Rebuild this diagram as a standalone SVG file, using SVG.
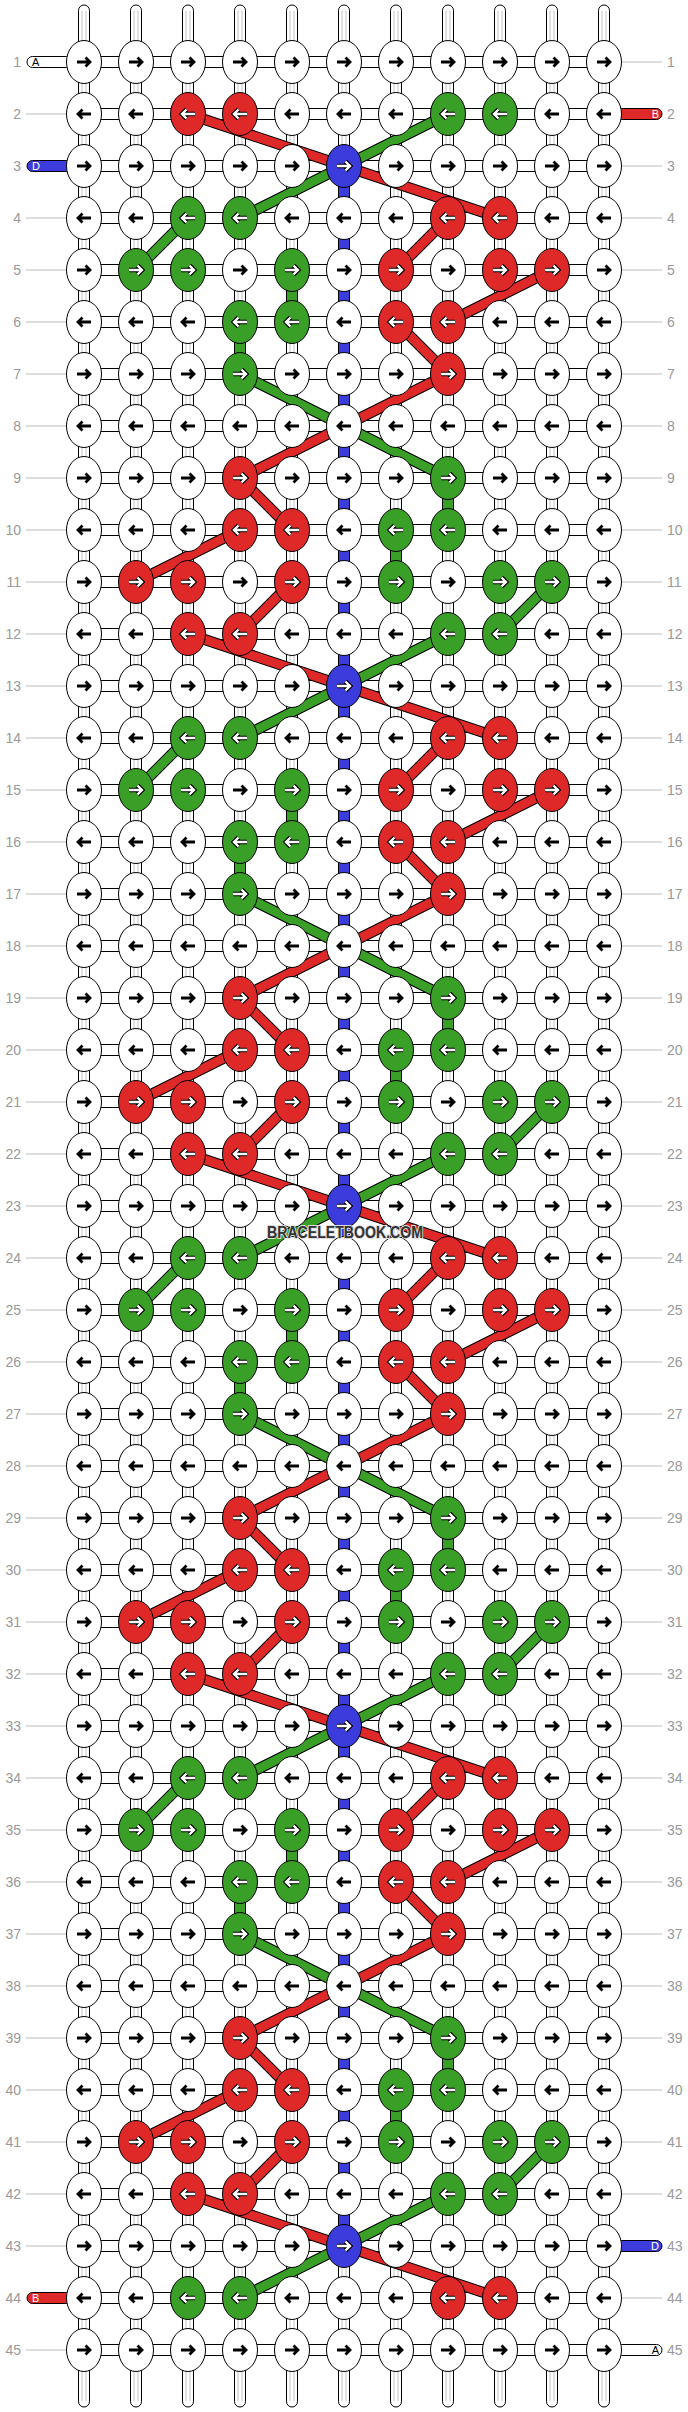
<svg xmlns="http://www.w3.org/2000/svg" xmlns:xlink="http://www.w3.org/1999/xlink" width="688" height="2412" viewBox="0 0 688 2412">
<style>
.w{fill:#fff;stroke:#000;stroke-width:1}
.r{fill:#df2828;stroke:#000;stroke-width:1}
.g{fill:#3a9f27;stroke:#000;stroke-width:1}
.b{fill:#3c3cdc;stroke:#000;stroke-width:1}
.ab{fill:none;stroke:#000;stroke-width:2.8}
.ao{fill:none;stroke:#000;stroke-width:4.6}
.aw{fill:none;stroke:#fff;stroke-width:2.4}
.o{fill:none;stroke:#000;stroke-width:11}
.rl{fill:none;stroke:#df2828;stroke-width:9}
.gn{fill:none;stroke:#3a9f27;stroke-width:9}
.gy{fill:none;stroke:#c4c4c4;stroke-width:1}
.ll{fill:none;stroke:#bbb;stroke-width:1}
.num{font-family:"Liberation Sans",Arial,sans-serif;font-size:14px;fill:#999}
.nl{text-anchor:end}
.lt{font-family:"Liberation Sans",Arial,sans-serif;font-size:11px}
</style>
<defs>
<path id="pR" d="M-7 0H6M1.5-4.5L6 0L1.5 4.5"/>
<path id="pL" d="M7 0H-6M-1.5-4.5L-6 0L-1.5 4.5"/>
<g id="wR"><ellipse rx="17.5" ry="21.5" class="w"/><use href="#pR" class="ab"/></g>
<g id="wL"><ellipse rx="17.5" ry="21.5" class="w"/><use href="#pL" class="ab"/></g>
<g id="rR"><ellipse rx="17.5" ry="21.5" class="r"/><use href="#pR" class="ao"/><use href="#pR" class="aw"/></g>
<g id="rL"><ellipse rx="17.5" ry="21.5" class="r"/><use href="#pL" class="ao"/><use href="#pL" class="aw"/></g>
<g id="gR"><ellipse rx="17.5" ry="21.5" class="g"/><use href="#pR" class="ao"/><use href="#pR" class="aw"/></g>
<g id="gL"><ellipse rx="17.5" ry="21.5" class="g"/><use href="#pL" class="ao"/><use href="#pL" class="aw"/></g>
<g id="bR"><ellipse rx="17.5" ry="21.5" class="b"/><use href="#pR" class="ao"/><use href="#pR" class="aw"/></g>
<rect id="rb" x="84" y="-5.5" width="520" height="11" class="w"/>
<path id="gp" d="M344 0L240 52M188 52L136 104M240 208L344 260M344 260L448 312M552 416L500 468M448 468L344 520"/>
<path id="rp" d="M344 0L500 52M448 52L396 104M552 104L448 156M396 156L448 208M448 208L344 260M344 260L240 312M240 312L292 364M240 364L136 416M292 416L240 468M188 468L344 520"/>
<g id="per">
<rect x="286.5" y="104" width="11" height="52" class="g"/>
<rect x="234.5" y="156" width="11" height="52" class="g"/>
<rect x="442.5" y="312" width="11" height="52" class="g"/>
<rect x="390.5" y="364" width="11" height="52" class="g"/>
<use href="#gp" class="o"/><use href="#gp" class="gn"/>
<use href="#rp" class="o"/><use href="#rp" class="rl"/>
</g>
</defs>
<rect width="688" height="2412" fill="#fff"/>
<g id="connectors">
<g id="strands">
<rect x="78.5" y="5" width="11" height="2402" rx="5.5" class="w"/>
<rect x="130.5" y="5" width="11" height="2402" rx="5.5" class="w"/>
<rect x="182.5" y="5" width="11" height="2402" rx="5.5" class="w"/>
<rect x="234.5" y="5" width="11" height="2402" rx="5.5" class="w"/>
<rect x="286.5" y="5" width="11" height="2402" rx="5.5" class="w"/>
<rect x="338.5" y="5" width="11" height="2402" rx="5.5" class="w"/>
<rect x="390.5" y="5" width="11" height="2402" rx="5.5" class="w"/>
<rect x="442.5" y="5" width="11" height="2402" rx="5.5" class="w"/>
<rect x="494.5" y="5" width="11" height="2402" rx="5.5" class="w"/>
<rect x="546.5" y="5" width="11" height="2402" rx="5.5" class="w"/>
<rect x="598.5" y="5" width="11" height="2402" rx="5.5" class="w"/>
<path class="gy" d="M82 11V2401M86 11V2401M134 11V2401M138 11V2401M186 11V2401M190 11V2401M238 11V2401M242 11V2401M290 11V2401M294 11V2401M342 11V2401M346 11V2401M394 11V2401M398 11V2401M446 11V2401M450 11V2401M498 11V2401M502 11V2401M550 11V2401M554 11V2401M602 11V2401M606 11V2401"/>
</g>
<g id="stubs">
<rect x="27" y="56.5" width="45" height="11" rx="5.5" class="w"/>
<rect x="27" y="160.5" width="45" height="11" rx="5.5" class="b"/>
<rect x="27" y="2292.5" width="45" height="11" rx="5.5" class="r"/>
<rect x="616" y="108.5" width="46" height="11" rx="5.5" class="r"/>
<rect x="616" y="2240.5" width="46" height="11" rx="5.5" class="b"/>
<rect x="616" y="2344.5" width="46" height="11" rx="5.5" class="w"/>
</g>
<g id="rowlinks">
<use href="#rb" y="62"/><use href="#rb" y="114"/><use href="#rb" y="166"/><use href="#rb" y="218"/><use href="#rb" y="270"/><use href="#rb" y="322"/><use href="#rb" y="374"/><use href="#rb" y="426"/><use href="#rb" y="478"/><use href="#rb" y="530"/><use href="#rb" y="582"/><use href="#rb" y="634"/><use href="#rb" y="686"/><use href="#rb" y="738"/><use href="#rb" y="790"/><use href="#rb" y="842"/><use href="#rb" y="894"/><use href="#rb" y="946"/><use href="#rb" y="998"/><use href="#rb" y="1050"/><use href="#rb" y="1102"/><use href="#rb" y="1154"/><use href="#rb" y="1206"/><use href="#rb" y="1258"/><use href="#rb" y="1310"/><use href="#rb" y="1362"/><use href="#rb" y="1414"/><use href="#rb" y="1466"/><use href="#rb" y="1518"/><use href="#rb" y="1570"/><use href="#rb" y="1622"/><use href="#rb" y="1674"/><use href="#rb" y="1726"/><use href="#rb" y="1778"/><use href="#rb" y="1830"/><use href="#rb" y="1882"/><use href="#rb" y="1934"/><use href="#rb" y="1986"/><use href="#rb" y="2038"/><use href="#rb" y="2090"/><use href="#rb" y="2142"/><use href="#rb" y="2194"/><use href="#rb" y="2246"/><use href="#rb" y="2298"/><use href="#rb" y="2350"/>
</g>
<rect id="blue-thread" x="338.5" y="166" width="11" height="2080" class="b"/>
<g id="threads">
<path class="o" d="M188 114L344 166M448 114L344 166"/>
<path class="rl" d="M188 114L344 166"/>
<path class="gn" d="M448 114L344 166"/>
<use href="#per" y="166"/>
<use href="#per" y="686"/>
<use href="#per" y="1206"/>
<use href="#per" y="1726"/>
<path class="o" d="M344 2246L240 2298M344 2246L500 2298"/>
<path class="gn" d="M344 2246L240 2298"/>
<path class="rl" d="M344 2246L500 2298"/>
</g>
</g>
<g id="nodes">
<g id="row1" transform="translate(0,62)"><g id="n1-1"><use href="#wR" x="84"/></g><g id="n1-2"><use href="#wR" x="136"/></g><g id="n1-3"><use href="#wR" x="188"/></g><g id="n1-4"><use href="#wR" x="240"/></g><g id="n1-5"><use href="#wR" x="292"/></g><g id="n1-6"><use href="#wR" x="344"/></g><g id="n1-7"><use href="#wR" x="396"/></g><g id="n1-8"><use href="#wR" x="448"/></g><g id="n1-9"><use href="#wR" x="500"/></g><g id="n1-10"><use href="#wR" x="552"/></g><g id="n1-11"><use href="#wR" x="604"/></g></g>
<g id="row2" transform="translate(0,114)"><g id="n2-1"><use href="#wL" x="84"/></g><g id="n2-2"><use href="#wL" x="136"/></g><g id="n2-3"><use href="#rL" x="188"/></g><g id="n2-4"><use href="#rL" x="240"/></g><g id="n2-5"><use href="#wL" x="292"/></g><g id="n2-6"><use href="#wL" x="344"/></g><g id="n2-7"><use href="#wL" x="396"/></g><g id="n2-8"><use href="#gL" x="448"/></g><g id="n2-9"><use href="#gL" x="500"/></g><g id="n2-10"><use href="#wL" x="552"/></g><g id="n2-11"><use href="#wL" x="604"/></g></g>
<g id="row3" transform="translate(0,166)"><g id="n3-1"><use href="#wR" x="84"/></g><g id="n3-2"><use href="#wR" x="136"/></g><g id="n3-3"><use href="#wR" x="188"/></g><g id="n3-4"><use href="#wR" x="240"/></g><g id="n3-5"><use href="#wR" x="292"/></g><g id="n3-6"><use href="#bR" x="344"/></g><g id="n3-7"><use href="#wR" x="396"/></g><g id="n3-8"><use href="#wR" x="448"/></g><g id="n3-9"><use href="#wR" x="500"/></g><g id="n3-10"><use href="#wR" x="552"/></g><g id="n3-11"><use href="#wR" x="604"/></g></g>
<g id="row4" transform="translate(0,218)"><g id="n4-1"><use href="#wL" x="84"/></g><g id="n4-2"><use href="#wL" x="136"/></g><g id="n4-3"><use href="#gL" x="188"/></g><g id="n4-4"><use href="#gL" x="240"/></g><g id="n4-5"><use href="#wL" x="292"/></g><g id="n4-6"><use href="#wL" x="344"/></g><g id="n4-7"><use href="#wL" x="396"/></g><g id="n4-8"><use href="#rL" x="448"/></g><g id="n4-9"><use href="#rL" x="500"/></g><g id="n4-10"><use href="#wL" x="552"/></g><g id="n4-11"><use href="#wL" x="604"/></g></g>
<g id="row5" transform="translate(0,270)"><g id="n5-1"><use href="#wR" x="84"/></g><g id="n5-2"><use href="#gR" x="136"/></g><g id="n5-3"><use href="#gR" x="188"/></g><g id="n5-4"><use href="#wR" x="240"/></g><g id="n5-5"><use href="#gR" x="292"/></g><g id="n5-6"><use href="#wR" x="344"/></g><g id="n5-7"><use href="#rR" x="396"/></g><g id="n5-8"><use href="#wR" x="448"/></g><g id="n5-9"><use href="#rR" x="500"/></g><g id="n5-10"><use href="#rR" x="552"/></g><g id="n5-11"><use href="#wR" x="604"/></g></g>
<g id="row6" transform="translate(0,322)"><g id="n6-1"><use href="#wL" x="84"/></g><g id="n6-2"><use href="#wL" x="136"/></g><g id="n6-3"><use href="#wL" x="188"/></g><g id="n6-4"><use href="#gL" x="240"/></g><g id="n6-5"><use href="#gL" x="292"/></g><g id="n6-6"><use href="#wL" x="344"/></g><g id="n6-7"><use href="#rL" x="396"/></g><g id="n6-8"><use href="#rL" x="448"/></g><g id="n6-9"><use href="#wL" x="500"/></g><g id="n6-10"><use href="#wL" x="552"/></g><g id="n6-11"><use href="#wL" x="604"/></g></g>
<g id="row7" transform="translate(0,374)"><g id="n7-1"><use href="#wR" x="84"/></g><g id="n7-2"><use href="#wR" x="136"/></g><g id="n7-3"><use href="#wR" x="188"/></g><g id="n7-4"><use href="#gR" x="240"/></g><g id="n7-5"><use href="#wR" x="292"/></g><g id="n7-6"><use href="#wR" x="344"/></g><g id="n7-7"><use href="#wR" x="396"/></g><g id="n7-8"><use href="#rR" x="448"/></g><g id="n7-9"><use href="#wR" x="500"/></g><g id="n7-10"><use href="#wR" x="552"/></g><g id="n7-11"><use href="#wR" x="604"/></g></g>
<g id="row8" transform="translate(0,426)"><g id="n8-1"><use href="#wL" x="84"/></g><g id="n8-2"><use href="#wL" x="136"/></g><g id="n8-3"><use href="#wL" x="188"/></g><g id="n8-4"><use href="#wL" x="240"/></g><g id="n8-5"><use href="#wL" x="292"/></g><g id="n8-6"><use href="#wL" x="344"/></g><g id="n8-7"><use href="#wL" x="396"/></g><g id="n8-8"><use href="#wL" x="448"/></g><g id="n8-9"><use href="#wL" x="500"/></g><g id="n8-10"><use href="#wL" x="552"/></g><g id="n8-11"><use href="#wL" x="604"/></g></g>
<g id="row9" transform="translate(0,478)"><g id="n9-1"><use href="#wR" x="84"/></g><g id="n9-2"><use href="#wR" x="136"/></g><g id="n9-3"><use href="#wR" x="188"/></g><g id="n9-4"><use href="#rR" x="240"/></g><g id="n9-5"><use href="#wR" x="292"/></g><g id="n9-6"><use href="#wR" x="344"/></g><g id="n9-7"><use href="#wR" x="396"/></g><g id="n9-8"><use href="#gR" x="448"/></g><g id="n9-9"><use href="#wR" x="500"/></g><g id="n9-10"><use href="#wR" x="552"/></g><g id="n9-11"><use href="#wR" x="604"/></g></g>
<g id="row10" transform="translate(0,530)"><g id="n10-1"><use href="#wL" x="84"/></g><g id="n10-2"><use href="#wL" x="136"/></g><g id="n10-3"><use href="#wL" x="188"/></g><g id="n10-4"><use href="#rL" x="240"/></g><g id="n10-5"><use href="#rL" x="292"/></g><g id="n10-6"><use href="#wL" x="344"/></g><g id="n10-7"><use href="#gL" x="396"/></g><g id="n10-8"><use href="#gL" x="448"/></g><g id="n10-9"><use href="#wL" x="500"/></g><g id="n10-10"><use href="#wL" x="552"/></g><g id="n10-11"><use href="#wL" x="604"/></g></g>
<g id="row11" transform="translate(0,582)"><g id="n11-1"><use href="#wR" x="84"/></g><g id="n11-2"><use href="#rR" x="136"/></g><g id="n11-3"><use href="#rR" x="188"/></g><g id="n11-4"><use href="#wR" x="240"/></g><g id="n11-5"><use href="#rR" x="292"/></g><g id="n11-6"><use href="#wR" x="344"/></g><g id="n11-7"><use href="#gR" x="396"/></g><g id="n11-8"><use href="#wR" x="448"/></g><g id="n11-9"><use href="#gR" x="500"/></g><g id="n11-10"><use href="#gR" x="552"/></g><g id="n11-11"><use href="#wR" x="604"/></g></g>
<g id="row12" transform="translate(0,634)"><g id="n12-1"><use href="#wL" x="84"/></g><g id="n12-2"><use href="#wL" x="136"/></g><g id="n12-3"><use href="#rL" x="188"/></g><g id="n12-4"><use href="#rL" x="240"/></g><g id="n12-5"><use href="#wL" x="292"/></g><g id="n12-6"><use href="#wL" x="344"/></g><g id="n12-7"><use href="#wL" x="396"/></g><g id="n12-8"><use href="#gL" x="448"/></g><g id="n12-9"><use href="#gL" x="500"/></g><g id="n12-10"><use href="#wL" x="552"/></g><g id="n12-11"><use href="#wL" x="604"/></g></g>
<g id="row13" transform="translate(0,686)"><g id="n13-1"><use href="#wR" x="84"/></g><g id="n13-2"><use href="#wR" x="136"/></g><g id="n13-3"><use href="#wR" x="188"/></g><g id="n13-4"><use href="#wR" x="240"/></g><g id="n13-5"><use href="#wR" x="292"/></g><g id="n13-6"><use href="#bR" x="344"/></g><g id="n13-7"><use href="#wR" x="396"/></g><g id="n13-8"><use href="#wR" x="448"/></g><g id="n13-9"><use href="#wR" x="500"/></g><g id="n13-10"><use href="#wR" x="552"/></g><g id="n13-11"><use href="#wR" x="604"/></g></g>
<g id="row14" transform="translate(0,738)"><g id="n14-1"><use href="#wL" x="84"/></g><g id="n14-2"><use href="#wL" x="136"/></g><g id="n14-3"><use href="#gL" x="188"/></g><g id="n14-4"><use href="#gL" x="240"/></g><g id="n14-5"><use href="#wL" x="292"/></g><g id="n14-6"><use href="#wL" x="344"/></g><g id="n14-7"><use href="#wL" x="396"/></g><g id="n14-8"><use href="#rL" x="448"/></g><g id="n14-9"><use href="#rL" x="500"/></g><g id="n14-10"><use href="#wL" x="552"/></g><g id="n14-11"><use href="#wL" x="604"/></g></g>
<g id="row15" transform="translate(0,790)"><g id="n15-1"><use href="#wR" x="84"/></g><g id="n15-2"><use href="#gR" x="136"/></g><g id="n15-3"><use href="#gR" x="188"/></g><g id="n15-4"><use href="#wR" x="240"/></g><g id="n15-5"><use href="#gR" x="292"/></g><g id="n15-6"><use href="#wR" x="344"/></g><g id="n15-7"><use href="#rR" x="396"/></g><g id="n15-8"><use href="#wR" x="448"/></g><g id="n15-9"><use href="#rR" x="500"/></g><g id="n15-10"><use href="#rR" x="552"/></g><g id="n15-11"><use href="#wR" x="604"/></g></g>
<g id="row16" transform="translate(0,842)"><g id="n16-1"><use href="#wL" x="84"/></g><g id="n16-2"><use href="#wL" x="136"/></g><g id="n16-3"><use href="#wL" x="188"/></g><g id="n16-4"><use href="#gL" x="240"/></g><g id="n16-5"><use href="#gL" x="292"/></g><g id="n16-6"><use href="#wL" x="344"/></g><g id="n16-7"><use href="#rL" x="396"/></g><g id="n16-8"><use href="#rL" x="448"/></g><g id="n16-9"><use href="#wL" x="500"/></g><g id="n16-10"><use href="#wL" x="552"/></g><g id="n16-11"><use href="#wL" x="604"/></g></g>
<g id="row17" transform="translate(0,894)"><g id="n17-1"><use href="#wR" x="84"/></g><g id="n17-2"><use href="#wR" x="136"/></g><g id="n17-3"><use href="#wR" x="188"/></g><g id="n17-4"><use href="#gR" x="240"/></g><g id="n17-5"><use href="#wR" x="292"/></g><g id="n17-6"><use href="#wR" x="344"/></g><g id="n17-7"><use href="#wR" x="396"/></g><g id="n17-8"><use href="#rR" x="448"/></g><g id="n17-9"><use href="#wR" x="500"/></g><g id="n17-10"><use href="#wR" x="552"/></g><g id="n17-11"><use href="#wR" x="604"/></g></g>
<g id="row18" transform="translate(0,946)"><g id="n18-1"><use href="#wL" x="84"/></g><g id="n18-2"><use href="#wL" x="136"/></g><g id="n18-3"><use href="#wL" x="188"/></g><g id="n18-4"><use href="#wL" x="240"/></g><g id="n18-5"><use href="#wL" x="292"/></g><g id="n18-6"><use href="#wL" x="344"/></g><g id="n18-7"><use href="#wL" x="396"/></g><g id="n18-8"><use href="#wL" x="448"/></g><g id="n18-9"><use href="#wL" x="500"/></g><g id="n18-10"><use href="#wL" x="552"/></g><g id="n18-11"><use href="#wL" x="604"/></g></g>
<g id="row19" transform="translate(0,998)"><g id="n19-1"><use href="#wR" x="84"/></g><g id="n19-2"><use href="#wR" x="136"/></g><g id="n19-3"><use href="#wR" x="188"/></g><g id="n19-4"><use href="#rR" x="240"/></g><g id="n19-5"><use href="#wR" x="292"/></g><g id="n19-6"><use href="#wR" x="344"/></g><g id="n19-7"><use href="#wR" x="396"/></g><g id="n19-8"><use href="#gR" x="448"/></g><g id="n19-9"><use href="#wR" x="500"/></g><g id="n19-10"><use href="#wR" x="552"/></g><g id="n19-11"><use href="#wR" x="604"/></g></g>
<g id="row20" transform="translate(0,1050)"><g id="n20-1"><use href="#wL" x="84"/></g><g id="n20-2"><use href="#wL" x="136"/></g><g id="n20-3"><use href="#wL" x="188"/></g><g id="n20-4"><use href="#rL" x="240"/></g><g id="n20-5"><use href="#rL" x="292"/></g><g id="n20-6"><use href="#wL" x="344"/></g><g id="n20-7"><use href="#gL" x="396"/></g><g id="n20-8"><use href="#gL" x="448"/></g><g id="n20-9"><use href="#wL" x="500"/></g><g id="n20-10"><use href="#wL" x="552"/></g><g id="n20-11"><use href="#wL" x="604"/></g></g>
<g id="row21" transform="translate(0,1102)"><g id="n21-1"><use href="#wR" x="84"/></g><g id="n21-2"><use href="#rR" x="136"/></g><g id="n21-3"><use href="#rR" x="188"/></g><g id="n21-4"><use href="#wR" x="240"/></g><g id="n21-5"><use href="#rR" x="292"/></g><g id="n21-6"><use href="#wR" x="344"/></g><g id="n21-7"><use href="#gR" x="396"/></g><g id="n21-8"><use href="#wR" x="448"/></g><g id="n21-9"><use href="#gR" x="500"/></g><g id="n21-10"><use href="#gR" x="552"/></g><g id="n21-11"><use href="#wR" x="604"/></g></g>
<g id="row22" transform="translate(0,1154)"><g id="n22-1"><use href="#wL" x="84"/></g><g id="n22-2"><use href="#wL" x="136"/></g><g id="n22-3"><use href="#rL" x="188"/></g><g id="n22-4"><use href="#rL" x="240"/></g><g id="n22-5"><use href="#wL" x="292"/></g><g id="n22-6"><use href="#wL" x="344"/></g><g id="n22-7"><use href="#wL" x="396"/></g><g id="n22-8"><use href="#gL" x="448"/></g><g id="n22-9"><use href="#gL" x="500"/></g><g id="n22-10"><use href="#wL" x="552"/></g><g id="n22-11"><use href="#wL" x="604"/></g></g>
<g id="row23" transform="translate(0,1206)"><g id="n23-1"><use href="#wR" x="84"/></g><g id="n23-2"><use href="#wR" x="136"/></g><g id="n23-3"><use href="#wR" x="188"/></g><g id="n23-4"><use href="#wR" x="240"/></g><g id="n23-5"><use href="#wR" x="292"/></g><g id="n23-6"><use href="#bR" x="344"/></g><g id="n23-7"><use href="#wR" x="396"/></g><g id="n23-8"><use href="#wR" x="448"/></g><g id="n23-9"><use href="#wR" x="500"/></g><g id="n23-10"><use href="#wR" x="552"/></g><g id="n23-11"><use href="#wR" x="604"/></g></g>
<g id="row24" transform="translate(0,1258)"><g id="n24-1"><use href="#wL" x="84"/></g><g id="n24-2"><use href="#wL" x="136"/></g><g id="n24-3"><use href="#gL" x="188"/></g><g id="n24-4"><use href="#gL" x="240"/></g><g id="n24-5"><use href="#wL" x="292"/></g><g id="n24-6"><use href="#wL" x="344"/></g><g id="n24-7"><use href="#wL" x="396"/></g><g id="n24-8"><use href="#rL" x="448"/></g><g id="n24-9"><use href="#rL" x="500"/></g><g id="n24-10"><use href="#wL" x="552"/></g><g id="n24-11"><use href="#wL" x="604"/></g></g>
<g id="row25" transform="translate(0,1310)"><g id="n25-1"><use href="#wR" x="84"/></g><g id="n25-2"><use href="#gR" x="136"/></g><g id="n25-3"><use href="#gR" x="188"/></g><g id="n25-4"><use href="#wR" x="240"/></g><g id="n25-5"><use href="#gR" x="292"/></g><g id="n25-6"><use href="#wR" x="344"/></g><g id="n25-7"><use href="#rR" x="396"/></g><g id="n25-8"><use href="#wR" x="448"/></g><g id="n25-9"><use href="#rR" x="500"/></g><g id="n25-10"><use href="#rR" x="552"/></g><g id="n25-11"><use href="#wR" x="604"/></g></g>
<g id="row26" transform="translate(0,1362)"><g id="n26-1"><use href="#wL" x="84"/></g><g id="n26-2"><use href="#wL" x="136"/></g><g id="n26-3"><use href="#wL" x="188"/></g><g id="n26-4"><use href="#gL" x="240"/></g><g id="n26-5"><use href="#gL" x="292"/></g><g id="n26-6"><use href="#wL" x="344"/></g><g id="n26-7"><use href="#rL" x="396"/></g><g id="n26-8"><use href="#rL" x="448"/></g><g id="n26-9"><use href="#wL" x="500"/></g><g id="n26-10"><use href="#wL" x="552"/></g><g id="n26-11"><use href="#wL" x="604"/></g></g>
<g id="row27" transform="translate(0,1414)"><g id="n27-1"><use href="#wR" x="84"/></g><g id="n27-2"><use href="#wR" x="136"/></g><g id="n27-3"><use href="#wR" x="188"/></g><g id="n27-4"><use href="#gR" x="240"/></g><g id="n27-5"><use href="#wR" x="292"/></g><g id="n27-6"><use href="#wR" x="344"/></g><g id="n27-7"><use href="#wR" x="396"/></g><g id="n27-8"><use href="#rR" x="448"/></g><g id="n27-9"><use href="#wR" x="500"/></g><g id="n27-10"><use href="#wR" x="552"/></g><g id="n27-11"><use href="#wR" x="604"/></g></g>
<g id="row28" transform="translate(0,1466)"><g id="n28-1"><use href="#wL" x="84"/></g><g id="n28-2"><use href="#wL" x="136"/></g><g id="n28-3"><use href="#wL" x="188"/></g><g id="n28-4"><use href="#wL" x="240"/></g><g id="n28-5"><use href="#wL" x="292"/></g><g id="n28-6"><use href="#wL" x="344"/></g><g id="n28-7"><use href="#wL" x="396"/></g><g id="n28-8"><use href="#wL" x="448"/></g><g id="n28-9"><use href="#wL" x="500"/></g><g id="n28-10"><use href="#wL" x="552"/></g><g id="n28-11"><use href="#wL" x="604"/></g></g>
<g id="row29" transform="translate(0,1518)"><g id="n29-1"><use href="#wR" x="84"/></g><g id="n29-2"><use href="#wR" x="136"/></g><g id="n29-3"><use href="#wR" x="188"/></g><g id="n29-4"><use href="#rR" x="240"/></g><g id="n29-5"><use href="#wR" x="292"/></g><g id="n29-6"><use href="#wR" x="344"/></g><g id="n29-7"><use href="#wR" x="396"/></g><g id="n29-8"><use href="#gR" x="448"/></g><g id="n29-9"><use href="#wR" x="500"/></g><g id="n29-10"><use href="#wR" x="552"/></g><g id="n29-11"><use href="#wR" x="604"/></g></g>
<g id="row30" transform="translate(0,1570)"><g id="n30-1"><use href="#wL" x="84"/></g><g id="n30-2"><use href="#wL" x="136"/></g><g id="n30-3"><use href="#wL" x="188"/></g><g id="n30-4"><use href="#rL" x="240"/></g><g id="n30-5"><use href="#rL" x="292"/></g><g id="n30-6"><use href="#wL" x="344"/></g><g id="n30-7"><use href="#gL" x="396"/></g><g id="n30-8"><use href="#gL" x="448"/></g><g id="n30-9"><use href="#wL" x="500"/></g><g id="n30-10"><use href="#wL" x="552"/></g><g id="n30-11"><use href="#wL" x="604"/></g></g>
<g id="row31" transform="translate(0,1622)"><g id="n31-1"><use href="#wR" x="84"/></g><g id="n31-2"><use href="#rR" x="136"/></g><g id="n31-3"><use href="#rR" x="188"/></g><g id="n31-4"><use href="#wR" x="240"/></g><g id="n31-5"><use href="#rR" x="292"/></g><g id="n31-6"><use href="#wR" x="344"/></g><g id="n31-7"><use href="#gR" x="396"/></g><g id="n31-8"><use href="#wR" x="448"/></g><g id="n31-9"><use href="#gR" x="500"/></g><g id="n31-10"><use href="#gR" x="552"/></g><g id="n31-11"><use href="#wR" x="604"/></g></g>
<g id="row32" transform="translate(0,1674)"><g id="n32-1"><use href="#wL" x="84"/></g><g id="n32-2"><use href="#wL" x="136"/></g><g id="n32-3"><use href="#rL" x="188"/></g><g id="n32-4"><use href="#rL" x="240"/></g><g id="n32-5"><use href="#wL" x="292"/></g><g id="n32-6"><use href="#wL" x="344"/></g><g id="n32-7"><use href="#wL" x="396"/></g><g id="n32-8"><use href="#gL" x="448"/></g><g id="n32-9"><use href="#gL" x="500"/></g><g id="n32-10"><use href="#wL" x="552"/></g><g id="n32-11"><use href="#wL" x="604"/></g></g>
<g id="row33" transform="translate(0,1726)"><g id="n33-1"><use href="#wR" x="84"/></g><g id="n33-2"><use href="#wR" x="136"/></g><g id="n33-3"><use href="#wR" x="188"/></g><g id="n33-4"><use href="#wR" x="240"/></g><g id="n33-5"><use href="#wR" x="292"/></g><g id="n33-6"><use href="#bR" x="344"/></g><g id="n33-7"><use href="#wR" x="396"/></g><g id="n33-8"><use href="#wR" x="448"/></g><g id="n33-9"><use href="#wR" x="500"/></g><g id="n33-10"><use href="#wR" x="552"/></g><g id="n33-11"><use href="#wR" x="604"/></g></g>
<g id="row34" transform="translate(0,1778)"><g id="n34-1"><use href="#wL" x="84"/></g><g id="n34-2"><use href="#wL" x="136"/></g><g id="n34-3"><use href="#gL" x="188"/></g><g id="n34-4"><use href="#gL" x="240"/></g><g id="n34-5"><use href="#wL" x="292"/></g><g id="n34-6"><use href="#wL" x="344"/></g><g id="n34-7"><use href="#wL" x="396"/></g><g id="n34-8"><use href="#rL" x="448"/></g><g id="n34-9"><use href="#rL" x="500"/></g><g id="n34-10"><use href="#wL" x="552"/></g><g id="n34-11"><use href="#wL" x="604"/></g></g>
<g id="row35" transform="translate(0,1830)"><g id="n35-1"><use href="#wR" x="84"/></g><g id="n35-2"><use href="#gR" x="136"/></g><g id="n35-3"><use href="#gR" x="188"/></g><g id="n35-4"><use href="#wR" x="240"/></g><g id="n35-5"><use href="#gR" x="292"/></g><g id="n35-6"><use href="#wR" x="344"/></g><g id="n35-7"><use href="#rR" x="396"/></g><g id="n35-8"><use href="#wR" x="448"/></g><g id="n35-9"><use href="#rR" x="500"/></g><g id="n35-10"><use href="#rR" x="552"/></g><g id="n35-11"><use href="#wR" x="604"/></g></g>
<g id="row36" transform="translate(0,1882)"><g id="n36-1"><use href="#wL" x="84"/></g><g id="n36-2"><use href="#wL" x="136"/></g><g id="n36-3"><use href="#wL" x="188"/></g><g id="n36-4"><use href="#gL" x="240"/></g><g id="n36-5"><use href="#gL" x="292"/></g><g id="n36-6"><use href="#wL" x="344"/></g><g id="n36-7"><use href="#rL" x="396"/></g><g id="n36-8"><use href="#rL" x="448"/></g><g id="n36-9"><use href="#wL" x="500"/></g><g id="n36-10"><use href="#wL" x="552"/></g><g id="n36-11"><use href="#wL" x="604"/></g></g>
<g id="row37" transform="translate(0,1934)"><g id="n37-1"><use href="#wR" x="84"/></g><g id="n37-2"><use href="#wR" x="136"/></g><g id="n37-3"><use href="#wR" x="188"/></g><g id="n37-4"><use href="#gR" x="240"/></g><g id="n37-5"><use href="#wR" x="292"/></g><g id="n37-6"><use href="#wR" x="344"/></g><g id="n37-7"><use href="#wR" x="396"/></g><g id="n37-8"><use href="#rR" x="448"/></g><g id="n37-9"><use href="#wR" x="500"/></g><g id="n37-10"><use href="#wR" x="552"/></g><g id="n37-11"><use href="#wR" x="604"/></g></g>
<g id="row38" transform="translate(0,1986)"><g id="n38-1"><use href="#wL" x="84"/></g><g id="n38-2"><use href="#wL" x="136"/></g><g id="n38-3"><use href="#wL" x="188"/></g><g id="n38-4"><use href="#wL" x="240"/></g><g id="n38-5"><use href="#wL" x="292"/></g><g id="n38-6"><use href="#wL" x="344"/></g><g id="n38-7"><use href="#wL" x="396"/></g><g id="n38-8"><use href="#wL" x="448"/></g><g id="n38-9"><use href="#wL" x="500"/></g><g id="n38-10"><use href="#wL" x="552"/></g><g id="n38-11"><use href="#wL" x="604"/></g></g>
<g id="row39" transform="translate(0,2038)"><g id="n39-1"><use href="#wR" x="84"/></g><g id="n39-2"><use href="#wR" x="136"/></g><g id="n39-3"><use href="#wR" x="188"/></g><g id="n39-4"><use href="#rR" x="240"/></g><g id="n39-5"><use href="#wR" x="292"/></g><g id="n39-6"><use href="#wR" x="344"/></g><g id="n39-7"><use href="#wR" x="396"/></g><g id="n39-8"><use href="#gR" x="448"/></g><g id="n39-9"><use href="#wR" x="500"/></g><g id="n39-10"><use href="#wR" x="552"/></g><g id="n39-11"><use href="#wR" x="604"/></g></g>
<g id="row40" transform="translate(0,2090)"><g id="n40-1"><use href="#wL" x="84"/></g><g id="n40-2"><use href="#wL" x="136"/></g><g id="n40-3"><use href="#wL" x="188"/></g><g id="n40-4"><use href="#rL" x="240"/></g><g id="n40-5"><use href="#rL" x="292"/></g><g id="n40-6"><use href="#wL" x="344"/></g><g id="n40-7"><use href="#gL" x="396"/></g><g id="n40-8"><use href="#gL" x="448"/></g><g id="n40-9"><use href="#wL" x="500"/></g><g id="n40-10"><use href="#wL" x="552"/></g><g id="n40-11"><use href="#wL" x="604"/></g></g>
<g id="row41" transform="translate(0,2142)"><g id="n41-1"><use href="#wR" x="84"/></g><g id="n41-2"><use href="#rR" x="136"/></g><g id="n41-3"><use href="#rR" x="188"/></g><g id="n41-4"><use href="#wR" x="240"/></g><g id="n41-5"><use href="#rR" x="292"/></g><g id="n41-6"><use href="#wR" x="344"/></g><g id="n41-7"><use href="#gR" x="396"/></g><g id="n41-8"><use href="#wR" x="448"/></g><g id="n41-9"><use href="#gR" x="500"/></g><g id="n41-10"><use href="#gR" x="552"/></g><g id="n41-11"><use href="#wR" x="604"/></g></g>
<g id="row42" transform="translate(0,2194)"><g id="n42-1"><use href="#wL" x="84"/></g><g id="n42-2"><use href="#wL" x="136"/></g><g id="n42-3"><use href="#rL" x="188"/></g><g id="n42-4"><use href="#rL" x="240"/></g><g id="n42-5"><use href="#wL" x="292"/></g><g id="n42-6"><use href="#wL" x="344"/></g><g id="n42-7"><use href="#wL" x="396"/></g><g id="n42-8"><use href="#gL" x="448"/></g><g id="n42-9"><use href="#gL" x="500"/></g><g id="n42-10"><use href="#wL" x="552"/></g><g id="n42-11"><use href="#wL" x="604"/></g></g>
<g id="row43" transform="translate(0,2246)"><g id="n43-1"><use href="#wR" x="84"/></g><g id="n43-2"><use href="#wR" x="136"/></g><g id="n43-3"><use href="#wR" x="188"/></g><g id="n43-4"><use href="#wR" x="240"/></g><g id="n43-5"><use href="#wR" x="292"/></g><g id="n43-6"><use href="#bR" x="344"/></g><g id="n43-7"><use href="#wR" x="396"/></g><g id="n43-8"><use href="#wR" x="448"/></g><g id="n43-9"><use href="#wR" x="500"/></g><g id="n43-10"><use href="#wR" x="552"/></g><g id="n43-11"><use href="#wR" x="604"/></g></g>
<g id="row44" transform="translate(0,2298)"><g id="n44-1"><use href="#wL" x="84"/></g><g id="n44-2"><use href="#wL" x="136"/></g><g id="n44-3"><use href="#gL" x="188"/></g><g id="n44-4"><use href="#gL" x="240"/></g><g id="n44-5"><use href="#wL" x="292"/></g><g id="n44-6"><use href="#wL" x="344"/></g><g id="n44-7"><use href="#wL" x="396"/></g><g id="n44-8"><use href="#rL" x="448"/></g><g id="n44-9"><use href="#rL" x="500"/></g><g id="n44-10"><use href="#wL" x="552"/></g><g id="n44-11"><use href="#wL" x="604"/></g></g>
<g id="row45" transform="translate(0,2350)"><g id="n45-1"><use href="#wR" x="84"/></g><g id="n45-2"><use href="#wR" x="136"/></g><g id="n45-3"><use href="#wR" x="188"/></g><g id="n45-4"><use href="#wR" x="240"/></g><g id="n45-5"><use href="#wR" x="292"/></g><g id="n45-6"><use href="#wR" x="344"/></g><g id="n45-7"><use href="#wR" x="396"/></g><g id="n45-8"><use href="#wR" x="448"/></g><g id="n45-9"><use href="#wR" x="500"/></g><g id="n45-10"><use href="#wR" x="552"/></g><g id="n45-11"><use href="#wR" x="604"/></g></g>
</g>
<g id="labels">
<path class="ll" d="M26 114H66M26 218H66M26 270H66M26 322H66M26 374H66M26 426H66M26 478H66M26 530H66M26 582H66M26 634H66M26 686H66M26 738H66M26 790H66M26 842H66M26 894H66M26 946H66M26 998H66M26 1050H66M26 1102H66M26 1154H66M26 1206H66M26 1258H66M26 1310H66M26 1362H66M26 1414H66M26 1466H66M26 1518H66M26 1570H66M26 1622H66M26 1674H66M26 1726H66M26 1778H66M26 1830H66M26 1882H66M26 1934H66M26 1986H66M26 2038H66M26 2090H66M26 2142H66M26 2194H66M26 2246H66M26 2350H66"/>
<path class="ll" d="M622 62H662M622 166H662M622 218H662M622 270H662M622 322H662M622 374H662M622 426H662M622 478H662M622 530H662M622 582H662M622 634H662M622 686H662M622 738H662M622 790H662M622 842H662M622 894H662M622 946H662M622 998H662M622 1050H662M622 1102H662M622 1154H662M622 1206H662M622 1258H662M622 1310H662M622 1362H662M622 1414H662M622 1466H662M622 1518H662M622 1570H662M622 1622H662M622 1674H662M622 1726H662M622 1778H662M622 1830H662M622 1882H662M622 1934H662M622 1986H662M622 2038H662M622 2090H662M622 2142H662M622 2194H662M622 2298H662"/>
<text class="lt" x="32" y="66" fill="#000">A</text>
<text class="lt" x="32" y="170" fill="#fff">D</text>
<text class="lt" x="32" y="2302" fill="#fff">B</text>
<text class="lt" x="659" y="118" fill="#fff" text-anchor="end">B</text>
<text class="lt" x="659" y="2250" fill="#fff" text-anchor="end">D</text>
<text class="lt" x="659" y="2354" fill="#000" text-anchor="end">A</text>
<g class="num nl">
<text x="21" y="67">1</text><text x="21" y="119">2</text><text x="21" y="171">3</text><text x="21" y="223">4</text><text x="21" y="275">5</text><text x="21" y="327">6</text><text x="21" y="379">7</text><text x="21" y="431">8</text><text x="21" y="483">9</text><text x="21" y="535">10</text><text x="21" y="587">11</text><text x="21" y="639">12</text><text x="21" y="691">13</text><text x="21" y="743">14</text><text x="21" y="795">15</text><text x="21" y="847">16</text><text x="21" y="899">17</text><text x="21" y="951">18</text><text x="21" y="1003">19</text><text x="21" y="1055">20</text><text x="21" y="1107">21</text><text x="21" y="1159">22</text><text x="21" y="1211">23</text><text x="21" y="1263">24</text><text x="21" y="1315">25</text><text x="21" y="1367">26</text><text x="21" y="1419">27</text><text x="21" y="1471">28</text><text x="21" y="1523">29</text><text x="21" y="1575">30</text><text x="21" y="1627">31</text><text x="21" y="1679">32</text><text x="21" y="1731">33</text><text x="21" y="1783">34</text><text x="21" y="1835">35</text><text x="21" y="1887">36</text><text x="21" y="1939">37</text><text x="21" y="1991">38</text><text x="21" y="2043">39</text><text x="21" y="2095">40</text><text x="21" y="2147">41</text><text x="21" y="2199">42</text><text x="21" y="2251">43</text><text x="21" y="2303">44</text><text x="21" y="2355">45</text>
</g>
<g class="num">
<text x="667" y="67">1</text><text x="667" y="119">2</text><text x="667" y="171">3</text><text x="667" y="223">4</text><text x="667" y="275">5</text><text x="667" y="327">6</text><text x="667" y="379">7</text><text x="667" y="431">8</text><text x="667" y="483">9</text><text x="667" y="535">10</text><text x="667" y="587">11</text><text x="667" y="639">12</text><text x="667" y="691">13</text><text x="667" y="743">14</text><text x="667" y="795">15</text><text x="667" y="847">16</text><text x="667" y="899">17</text><text x="667" y="951">18</text><text x="667" y="1003">19</text><text x="667" y="1055">20</text><text x="667" y="1107">21</text><text x="667" y="1159">22</text><text x="667" y="1211">23</text><text x="667" y="1263">24</text><text x="667" y="1315">25</text><text x="667" y="1367">26</text><text x="667" y="1419">27</text><text x="667" y="1471">28</text><text x="667" y="1523">29</text><text x="667" y="1575">30</text><text x="667" y="1627">31</text><text x="667" y="1679">32</text><text x="667" y="1731">33</text><text x="667" y="1783">34</text><text x="667" y="1835">35</text><text x="667" y="1887">36</text><text x="667" y="1939">37</text><text x="667" y="1991">38</text><text x="667" y="2043">39</text><text x="667" y="2095">40</text><text x="667" y="2147">41</text><text x="667" y="2199">42</text><text x="667" y="2251">43</text><text x="667" y="2303">44</text><text x="667" y="2355">45</text>
</g>
<text x="345" y="1238" text-anchor="middle" font-family="Liberation Sans, Arial, sans-serif" font-size="16" font-weight="bold" textLength="156" lengthAdjust="spacingAndGlyphs" fill="#333" stroke="#ddd" stroke-width="2" paint-order="stroke">BRACELETBOOK.COM</text>
</g>
</svg>
